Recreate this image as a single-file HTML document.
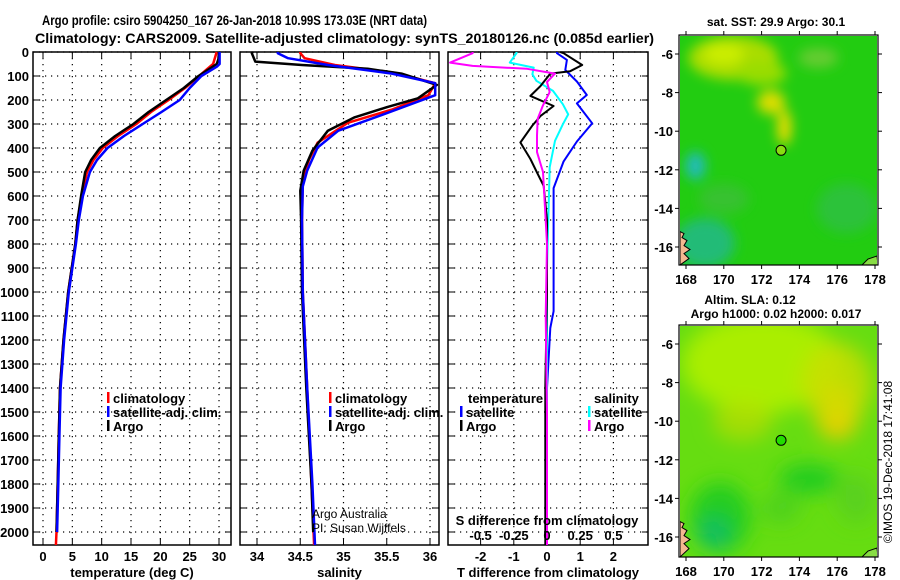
<!DOCTYPE html>
<html><head><meta charset="utf-8"><style>
html,body{margin:0;padding:0;background:#fff;}
svg{display:block;font-family:"Liberation Sans",Arial,sans-serif;}
.b{font-weight:bold;}
</style></head><body>
<svg id="fig" width="900" height="580" viewBox="0 0 900 580" xmlns="http://www.w3.org/2000/svg">
<defs>
<filter id="blur6" x="-50%" y="-50%" width="200%" height="200%"><feGaussianBlur stdDeviation="6"/></filter>
<filter id="blur10" x="-50%" y="-50%" width="200%" height="200%"><feGaussianBlur stdDeviation="10"/></filter>
<clipPath id="cm1"><rect x="680" y="36" width="197" height="229"/></clipPath>
<clipPath id="cm2"><rect x="680" y="326" width="197" height="231"/></clipPath>
</defs>
<text class="b" x="42" y="25" font-size="14" textLength="385" lengthAdjust="spacingAndGlyphs">Argo profile: csiro 5904250_167 26-Jan-2018 10.99S 173.03E (NRT data)</text>
<text class="b" x="35" y="43" font-size="14" textLength="619" lengthAdjust="spacingAndGlyphs">Climatology: CARS2009. Satellite-adjusted climatology: synTS_20180126.nc (0.085d earlier)</text>
<g id="charts"></g>
<g id="maps"></g>
<text x="896" y="462" font-size="12" text-anchor="middle" transform="rotate(-90 896 462)" dy="-4">©IMOS 19-Dec-2018 17:41:08</text>
</svg>
<script>
// ---- data ----
const depthTicks = [0,100,200,300,400,500,600,700,800,900,1000,1100,1200,1300,1400,1500,1600,1700,1800,1900,2000];
const tempTicks = [0,5,10,15,20,25,30];
const salTicks = [34,34.5,35,35.5,36];
const tdiffTicks = [-2,-1,0,1,2];
const sdiffTicks = [-0.5,-0.25,0,0.25,0.5];
const sdiffTickLabels = ["-0.5","-0.25","0","0.25","0.5"];

const tArgoDepth = [0,30,50,100,150,200,250,300,350,400,450,500,600,700,800,1000,1200,1400,1600,1800,2000];
const tArgoVal   = [30,29.9,29.6,26.5,24,21,18,15.4,12.3,9.7,8.2,7.2,6.5,5.9,5.5,4.3,3.5,2.9,2.7,2.5,2.3];
const tClimDepth = [0,50,100,150,200,250,300,350,400,450,500,600,700,800,1000,1200,1400,1600,1800,2000,2054];
const tClimVal   = [29.6,29.0,26.6,24.2,21.4,18.4,15.9,12.8,10.2,8.6,7.5,6.6,5.9,5.5,4.3,3.5,2.9,2.7,2.5,2.3,2.2];
const tSatDepth  = [0,50,60,100,150,200,250,300,350,400,450,500,600,700,800,1000,1200,1400,1600,1800,2000];
const tSatVal    = [30.1,30.1,29.7,27,25,23.3,20.2,17,13.8,11,9.2,8,6.8,6.1,5.6,4.4,3.6,3.0,2.8,2.6,2.4];

const sArgoDepth = [0,5,40,54,70,90,137,193,230,272,328,411,494,578,700,1000,1400,1800,2000];
const sArgoVal   = [33.95,33.94,33.98,34.52,35.28,35.67,36.08,35.86,35.5,35.13,34.82,34.64,34.54,34.5,34.51,34.52,34.57,34.63,34.65];
const sClimDepth = [0,5,26,54,87,130,180,240,295,378,450,535,700,1000,1400,1800,2054];
const sClimVal   = [34.5,34.5,34.55,34.9,35.6,36.06,35.98,35.56,35.05,34.7,34.6,34.53,34.52,34.53,34.58,34.63,34.66];
const sSatDepth  = [0,5,26,54,90,130,180,263,328,398,494,560,700,1000,1400,1800,2054];
const sSatVal    = [34.24,34.24,34.36,34.82,35.56,36.06,36.06,35.44,34.94,34.7,34.58,34.53,34.52,34.53,34.58,34.64,34.67];

const dTArgoDepth = [0,5,54,80,90,142,183,225,267,308,377,446,502,558,700,1000,1400,1800,2054];
const dTArgoVal   = [0.4,0.5,1.06,0.7,0.1,-0.2,-0.5,0.2,-0.2,-0.45,-0.8,-0.5,-0.3,-0.1,0,0,-0.05,-0.05,-0.05];
const dTSatDepth  = [0,5,33,75,123,179,214,297,373,456,567,800,1080,1150,1400,2054];
const dTSatVal    = [0.3,0.3,0.6,0.55,0.9,1.2,0.9,1.36,0.9,0.5,0.2,0.2,0.2,0.1,0,0];
const dSSatDepth  = [0,5,44,65,93,120,162,218,260,301,370,480,900,1400,2054];
const dSSatVal    = [-0.23,-0.23,-0.28,-0.1,-0.11,-0.08,0.045,0.12,0.16,0.12,0.06,0.02,0,0,0];
const dSArgoDepth = [0,5,44,58,70,90,125,167,222,278,347,417,500,800,1100,1500,2054];
const dSArgoVal   = [-0.56,-0.56,-0.73,-0.56,-0.15,0.06,0,0.02,-0.03,-0.07,-0.075,-0.075,-0.03,0,-0.01,0,0];

// ---- layout ----
const NS='http://www.w3.org/2000/svg';
const g=document.getElementById('charts');
const yTop=52, pxPer100=24, yBot=545;
function yD(d){return yTop+d*pxPer100/100;}
function el(tag,attrs,parent){const e=document.createElementNS(NS,tag);for(const k in attrs)e.setAttribute(k,attrs[k]);(parent||g).appendChild(e);return e;}
function txt(s,attrs,parent){const e=el('text',attrs,parent);e.textContent=s;return e;}

const panels=[
 {name:'temperature-panel',x0:33,x1:231,fx:v=>43+v*5.867,ticks:tempTicks,labels:tempTicks.map(String),xlabel:'temperature (deg C)',ylabels:true},
 {name:'salinity-panel',x0:240,x1:439,fx:v=>257+(v-34)*86.5,ticks:salTicks,labels:salTicks.map(String),xlabel:'salinity',ylabels:false},
 {name:'difference-panel',x0:448,x1:648,fx:v=>547+v*33.2,ticks:tdiffTicks,labels:tdiffTicks.map(String),xlabel:'T difference from climatology',ylabels:false}
];
const fS=v=>547+v*132.8;

panels.forEach(p=>{
  const pg=el('g',{});
  
  
  depthTicks.forEach(d=>{
    const l=el('line',{x1:p.x0,x2:p.x1,y1:yD(d),y2:yD(d),stroke:'#000','stroke-width':1.2,'stroke-dasharray':'1.2 4.8'},pg);
    
    
    el('line',{x1:p.x0,x2:p.x0+6,y1:yD(d),y2:yD(d),stroke:'#000','stroke-width':1},pg);
    el('line',{x1:p.x1-6,x2:p.x1,y1:yD(d),y2:yD(d),stroke:'#000','stroke-width':1},pg);
    if(p.ylabels){
      const t=txt(String(d),{x:29,y:yD(d)+5,'font-size':13,'font-weight':'bold','text-anchor':'end'},pg);
      
      
    }
  });
  p.ticks.forEach((v,i)=>{
    const x=p.fx(v);
    const l=el('line',{x1:x,x2:x,y1:yTop,y2:yBot,stroke:'#000','stroke-width':1.2,'stroke-dasharray':'1.2 4.8'},pg);
    
    
    el('line',{x1:x,x2:x,y1:yBot,y2:yBot-6,stroke:'#000'},pg);
    el('line',{x1:x,x2:x,y1:yTop,y2:yTop+6,stroke:'#000'},pg);
    const t=txt(p.labels[i],{x:x,y:561,'font-size':13,'font-weight':'bold','text-anchor':'middle'},pg);
    
    
  });
  const r=el('rect',{x:p.x0,y:yTop,width:p.x1-p.x0,height:yBot-yTop,fill:'none',stroke:'#000','stroke-width':1.5},pg);
  
  
  const xl=txt(p.xlabel,{x:(p.x0+p.x1)/2,y:577,'font-size':13,'font-weight':'bold','text-anchor':'middle'},pg);
  
  
  p.g=pg;
});
function line(pg,depths,vals,fx,color,w,name){
  const pts=depths.map((d,i)=>fx(vals[i]).toFixed(1)+','+yD(Math.min(d,2054)).toFixed(1)).join(' ');
  const pl=el('polyline',{points:pts,fill:'none',stroke:color,'stroke-width':w,'stroke-linejoin':'round'},pg);
  
  
}
const P=panels;
line(P[0].g,tClimDepth,tClimVal,P[0].fx,'#ff0000',2.5,'temp-climatology-line');
line(P[0].g,tArgoDepth,tArgoVal,P[0].fx,'#000000',2.5,'temp-argo-line');
line(P[0].g,tSatDepth,tSatVal,P[0].fx,'#0000ff',2.5,'temp-satellite-line');
line(P[1].g,sClimDepth,sClimVal,P[1].fx,'#ff0000',2.5,'sal-climatology-line');
line(P[1].g,sArgoDepth,sArgoVal,P[1].fx,'#000000',2.5,'sal-argo-line');
line(P[1].g,sSatDepth,sSatVal,P[1].fx,'#0000ff',2.5,'sal-satellite-line');
line(P[2].g,dTSatDepth,dTSatVal,P[2].fx,'#0000ff',2,'tdiff-satellite-line');
line(P[2].g,dSSatDepth,dSSatVal,fS,'#00ffff',2,'sdiff-satellite-line');
line(P[2].g,dTArgoDepth,dTArgoVal,P[2].fx,'#000000',2,'tdiff-argo-line');
line(P[2].g,dSArgoDepth,dSArgoVal,fS,'#ff00ff',2,'sdiff-argo-line');

sdiffTicks.forEach((v,i)=>{
  const t=txt(sdiffTickLabels[i],{x:fS(v),y:540,'font-size':13,'font-weight':'bold','text-anchor':'middle'},P[2].g);
  
  
});
{const t=txt('S difference from climatology',{x:547,y:525,'font-size':13,'font-weight':'bold','text-anchor':'middle'},P[2].g);

}

function legend(pg,x,y,color,label,name){
  const lg=el('g',{},pg);
  
  
  if(color) el('rect',{x:x,y:y-11,width:2.5,height:11,fill:color},lg);
  txt(label,{x:x+6,y:y,'font-size':13,'font-weight':'bold'},lg);
}
legend(P[0].g,107,403,'#ff0000','climatology','legend-climatology');
legend(P[0].g,107,417,'#0000ff','satellite-adj. clim.','legend-satellite-adj');
legend(P[0].g,107,431,'#000000','Argo','legend-argo');
legend(P[1].g,329,403,'#ff0000','climatology','legend-climatology-sal');
legend(P[1].g,329,417,'#0000ff','satellite-adj. clim.','legend-satellite-adj-sal');
legend(P[1].g,329,431,'#000000','Argo','legend-argo-sal');
legend(P[2].g,462,403,null,'temperature','legend-temperature-heading');
legend(P[2].g,460,417,'#0000ff','satellite','legend-t-satellite');
legend(P[2].g,460,431,'#000000','Argo','legend-t-argo');
legend(P[2].g,588,403,null,'salinity','legend-salinity-heading');
legend(P[2].g,588,417,'#00ffff','satellite','legend-s-satellite');
legend(P[2].g,588,431,'#ff00ff','Argo','legend-s-argo');
{const t=txt('Argo Australia',{x:312,y:518,'font-size':12},P[1].g);
const t2=txt('PI: Susan Wijffels',{x:312,y:532,'font-size':12},P[1].g);}

// ---- maps ----
const mg=document.getElementById('maps');
const lonTicks=[168,170,172,174,176,178];
const latTicks=[-6,-8,-10,-12,-14,-16];
function mapAxes(name,top,bot,lat6y,lat16y,clip,bg,blobs,title1,dotFill){
  const m=el('g',{},mg);
  
  
  const lonX=v=>686+(v-168)*18.9;
  const latY=v=>lat6y+(-6-v)*(lat16y-lat6y)/10;
  const inner=el('g',{'clip-path':'url(#'+clip+')'},m);
  el('rect',{x:679,y:top,width:199,height:bot-top,fill:bg},inner);
  const bg2=el('g',{filter:blobs.f},inner);
  blobs.list.forEach(b=>el('ellipse',{cx:lonX(b[0]),cy:latY(b[1]),rx:b[2],ry:b[3],fill:b[4],opacity:b[5]===undefined?1:b[5]},bg2));
  el('path',{d:'M680 '+(latY(-15.2))+' l4 2 l-2 4 l5 3 l-3 5 l6 4 l-6 4 l5 5 L680 '+bot+' Z',fill:'#f4b890',stroke:'#000','stroke-width':1},inner);
  el('path',{d:'M862 '+bot+' l6 -6 l9 -3 L878 '+bot+' Z',fill:'#88dd44',stroke:'#000','stroke-width':1},inner);
  const dot=el('circle',{cx:lonX(173.03),cy:latY(-10.99),r:5,fill:dotFill,stroke:'#000','stroke-width':1},m);
  
  
  el('rect',{x:679,y:top,width:199,height:bot-top,fill:'none',stroke:'#000','stroke-width':1.2},m);
  lonTicks.forEach(v=>{const x=lonX(v);
    el('line',{x1:x,x2:x,y1:bot,y2:bot+4,stroke:'#000'},m);
    el('line',{x1:x,x2:x,y1:top,y2:top-4,stroke:'#000'},m);
    const t=txt(String(v),{x:x,y:bot+19,'font-size':13,'font-weight':'bold','text-anchor':'middle'},m);
    });
  latTicks.forEach(v=>{const y=latY(v);
    el('line',{x1:679,x2:675,y1:y,y2:y,stroke:'#000'},m);
    el('line',{x1:878,x2:882,y1:y,y2:y,stroke:'#000'},m);
    const t=txt(String(v),{x:673,y:y+5,'font-size':13,'font-weight':'bold','text-anchor':'end'},m);
    });
  title1.forEach(tt=>{const t=txt(tt[0],{x:tt[1],y:tt[2],'font-size':12,'font-weight':'bold','text-anchor':'middle'},m);
    });
}
mapAxes('sst-map',35,265,54,247,'cm1','#22cc11',{f:'url(#blur6)',list:[
  [170.5,-6.2,45,22,'#aadd00'],[170,-6,20,10,'#ccee00'],[172.5,-8.5,14,12,'#dddd00'],[173.2,-9.8,7,18,'#eedd00'],
  [172,-7,25,12,'#99dd00'],[175,-6.2,20,10,'#66cc33'],[168.5,-11.8,10,14,'#22bbbb'],[169,-15.8,30,25,'#22bb77'],
  [176.5,-14,30,25,'#33bb55',0.6],[170,-13.5,25,15,'#44bb44',0.6]]},
  [['sat. SST: 29.9 Argo: 30.1',776,26]],'#88dd11');
mapAxes('sla-map',325,557,344,537,'cm2','#66dd11',{f:'url(#blur10)',list:[
  [172,-7,80,50,'#aaee00'],[176,-9.5,22,28,'#eecc00'],[176,-8,35,40,'#ccdd00',0.8],[171,-10,30,20,'#bbdd00',0.7],
  [169.8,-15,30,35,'#22cc22'],[169.5,-15.8,15,15,'#11bb66'],[174.5,-13,30,15,'#22cc22'],[173,-14.5,20,15,'#44cc22',0.7],[177,-14,20,25,'#55cc22',0.7]]},
  [['Altim. SLA: 0.12',750,304],['Argo h1000: 0.02 h2000: 0.017',776,318]],'#22dd00');
</script>
</body></html>
